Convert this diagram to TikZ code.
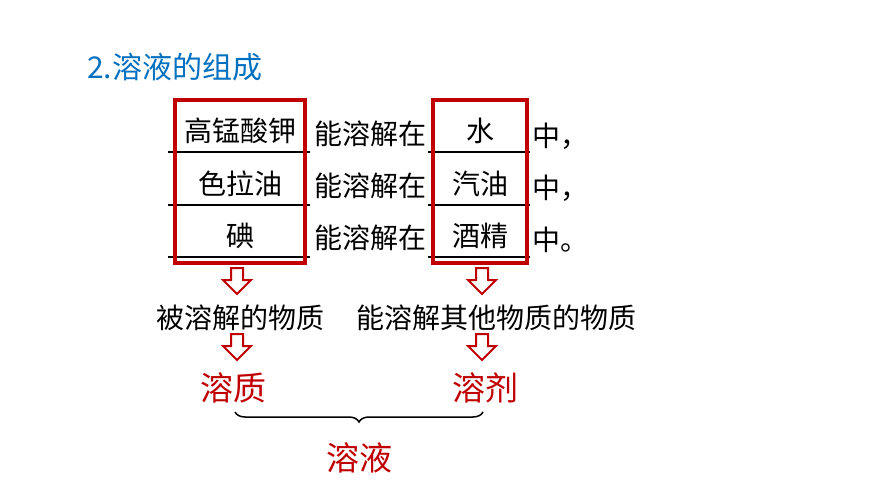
\documentclass[tikz,border=0pt]{standalone}
\usepackage{fontspec}
\newfontfamily\cjk{Noto Sans CJK SC}
\usetikzlibrary{decorations.pathreplacing}
\definecolor{dred}{RGB}{192,0,0}
\definecolor{tblue}{RGB}{0,112,192}
\begin{document}
\begin{tikzpicture}[x=1pt,y=-1pt,
  txt/.style={font=\cjk\fontsize{28}{28}\selectfont,inner sep=0pt},
  rtxt/.style={txt,text=dred,font=\cjk\fontsize{33}{33}\selectfont},
  redbox/.style={draw=dred,line width=3.5pt},
  uline/.style={line width=1.4pt},
  harrow/.style={draw=dred,line width=2pt,fill=white}]
\useasboundingbox (0,0) rectangle (870,489);
\node[anchor=west,text=tblue,font=\cjk\fontsize{30}{30}\selectfont,inner sep=0pt] (title) at (87,67) {2.溶液的组成};
% underlines
\foreach \y in {152,205,257}{
  \draw[uline] (168,\y) -- (310,\y);
  \draw[uline] (428,\y) -- (530,\y);
}
\node[txt] (a1) at (240,131) {高锰酸钾};
\node[txt] (a2) at (240,184) {色拉油};
\node[txt] (a3) at (240,236) {碘};
\foreach \y/\n in {134/1,186/2,238/3}{\node[txt] (m\n) at (370,\y) {能溶解在};}
\node[txt] (b1) at (480,131) {水};
\node[txt] (b2) at (480,184) {汽油};
\node[txt] (b3) at (480,236) {酒精};
\node[txt,anchor=west] (c1) at (532,136) {中，};
\node[txt,anchor=west] (c2) at (532,188) {中，};
\node[txt,anchor=west] (c3) at (532,240) {中。};
\draw[redbox] (175,100) rectangle (305,263);
\draw[redbox] (433,100) rectangle (527,263);
% hollow arrows
\foreach \x/\t in {237/268,482/268,237/334,482/334}{
  \draw[harrow] (\x-6,\t) -- (\x+6,\t) -- (\x+6,\t+12) -- (\x+14,\t+12) -- (\x,\t+26) -- (\x-14,\t+12) -- (\x-6,\t+12) -- cycle;
}
\node[txt] (s1) at (240,318) {被溶解的物质};
\node[txt] (s2) at (496,318) {能溶解其他物质的物质};
\node[rtxt] (solute) at (233,388) {溶质};
\node[rtxt] (solvent) at (485,388) {溶剂};
\coordinate (bl) at (235,412);
\coordinate (br) at (483,412);
\draw[line width=1.5pt,decorate,decoration={brace,mirror,amplitude=10pt}] (bl) -- (br);
\node[rtxt] (sol) at (359,458) {溶液};
\end{tikzpicture}
\end{document}
